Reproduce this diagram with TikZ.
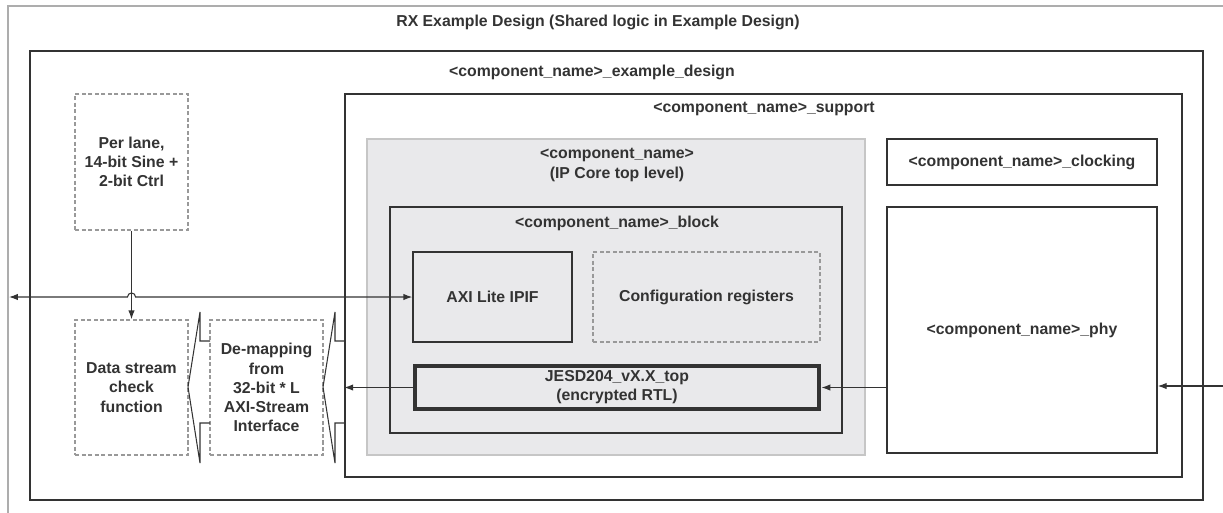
\documentclass[tikz,border=0pt]{standalone}
\usepackage{fontspec}
\setmainfont{Liberation Sans}
\usepackage{tikz}
\usetikzlibrary{arrows.meta,positioning,fit,calc}
\definecolor{Ink}{HTML}{333333}
\definecolor{DashGrey}{HTML}{999999}
\definecolor{FrameGrey}{HTML}{ADADAD}
\definecolor{CoreFill}{HTML}{E9E9EB}
\definecolor{CoreEdge}{HTML}{C6C6C6}
\newcommand{\diagfont}{\bfseries\fontsize{9}{10.9}\selectfont}
\newdimen\px
\px=0.02cm
\tikzset{
    % Plain boxes, sharp corners
    boxsize/.style 2 args={
        minimum width=#1*\px,
        minimum height=#2*\px
    },
    outerbox/.style={
        rectangle,
        draw=FrameGrey,
        line width=0.7pt,
        inner sep=0pt
    },
    solidbox/.style={
        rectangle,
        draw=Ink,
        line width=0.85pt,
        inner sep=0pt,
        align=center,
        text=Ink,
        font=\diagfont
    },
    dashbox/.style={
        rectangle,
        draw=DashGrey,
        line width=0.85pt,
        dash pattern=on 2.4pt off 1.3pt,
        inner sep=0pt,
        align=center,
        text=Ink,
        font=\diagfont
    },
    corebox/.style={
        rectangle,
        draw=CoreEdge,
        fill=CoreFill,
        line width=0.85pt,
        inner sep=0pt
    },
    rtlbox/.style={
        solidbox,
        line width=2.8pt
    },
    ttl/.style={
        inner sep=0pt,
        align=center,
        text=Ink,
        font=\diagfont
    },
    arrow/.style={
        -{Latex[length=5pt,width=3.6pt]},
        line width=0.6pt,
        draw=Ink
    },
    dblarrow/.style={
        arrow,
        {Latex[length=5pt,width=3.6pt]}-{Latex[length=5pt,width=3.6pt]}
    },
    bracketline/.style={
        line width=0.6pt,
        draw=Ink,
        line join=miter
    }
}

\begin{document}
\begin{tikzpicture}[x=0.02cm, y=-0.02cm]
            \useasboundingbox (0,0) rectangle (1223,512);
            \clip (0,0) rectangle (1223,512);

            % RX example design frame
            \node[outerbox, fit={(8,6) (1240,530)}] (rxdesign) {};
            \node[ttl] (rxtitle) at (598,22) {RX Example Design (Shared logic in Example Design)};

            % Example design
            \node[solidbox, boxsize={1173}{449}] (exdesign) at (616.5,275.5) {};
            \node[ttl] (extitle) at (592,72) {<component\_name>\_example\_design};

            % Support level
            \node[solidbox, boxsize={837}{383}] (support) at (763.5,285.5) {};
            \node[ttl] (supporttitle) at (764,109) {<component\_name>\_support};

            % IP core top level
            \node[corebox, boxsize={498}{316}] (ipcore) at (616,297) {};
            \node[ttl] (coretitle) at (617,165) {<component\_name>\\(IP Core top level)};

            % Block level
            \node[solidbox, boxsize={452}{226}] (block) at (616,320) {};
            \node[ttl] (blocktitle) at (617,223) {<component\_name>\_block};

            % Inside the block
            \node[solidbox, boxsize={159}{90}] (axi) at (492.5,297) {AXI Lite IPIF};
            \node[dashbox, boxsize={227}{90}] (config) at (706.5,297) {Configuration registers};
            \node[rtlbox, boxsize={404}{43}] (jesd) at (617,387.5) {JESD204\_vX.X\_top\\(encrypted RTL)};

            % Clocking and PHY
            \node[solidbox, boxsize={270}{46}] (clocking) at (1022,162) {<component\_name>\_clocking};
            \node[solidbox, boxsize={270}{246}] (phy) at (1022,330) {<component\_name>\_phy};

            % User side blocks
            \node[dashbox, boxsize={113}{136}] (perlane) at (131.5,162) {Per lane,\\14-bit Sine +\\2-bit Ctrl};
            \node[dashbox, boxsize={113}{135}] (check) at (131.5,387.5) {Data stream\\check\\function};
            \node[dashbox, boxsize={113}{135}] (demap) at (266.5,387.5) {De-mapping\\from\\32-bit * L\\AXI-Stream\\Interface};

            % Stream brackets
            \foreach \dx in {0,135} {
                \draw[bracketline] (210+\dx,341) -- (200+\dx,341) -- (200+\dx,312) -- (188+\dx,387)
                    -- (200+\dx,463) -- (200+\dx,423) -- (210+\dx,423);
            }

            % Ports
            \coordinate (leftport) at (9,297);
            \coordinate (rightport) at (1223,386);

            % Arrows
            \draw[arrow] (perlane.south) -- (check.north);
            \draw[dblarrow] (leftport) -- ($(perlane.south |- leftport)+(-4,0)$)
                arc[start angle=180, end angle=0, radius=2.3pt] -- (axi.west);
            \draw[arrow] (jesd.west) -- (jesd.west -| support.west);
            \draw[arrow] (jesd.east -| phy.west) -- (jesd.east);
            \draw[arrow] (rightport) -- (rightport -| phy.east);
        \end{tikzpicture}
\end{document}
